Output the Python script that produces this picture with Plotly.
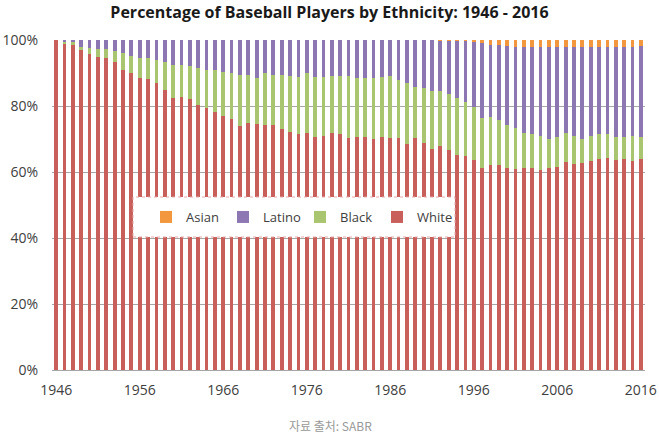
import plotly.graph_objects as go

years = list(range(1946, 2017))

white = [100, 99.0, 98.5, 97.0, 95.8, 94.7, 94.4, 93.2, 90.9, 89.9,
         88.4, 88.2, 86.9, 84.8, 82.3, 82.8, 82.1, 80.3, 79.5, 78.3,
         77.0, 76.0, 73.9, 74.7, 74.5, 74.2, 74.2, 73.0, 72.0, 71.4,
         71.7, 70.7, 71.0, 71.7, 71.4, 70.2, 70.5, 70.7, 69.9, 70.5,
         70.4, 70.2, 68.5, 70.2, 68.9, 67.1, 67.9, 66.7, 65.3, 64.7,
         63.6, 61.1, 62.1, 62.0, 61.1, 60.8, 61.1, 61.3, 60.6, 61.3,
         61.4, 63.1, 62.4, 62.6, 63.3, 63.8, 64.1, 63.6, 63.8, 63.4,
         63.8]

black = [0, 0.5, 0.8, 1.0, 1.7, 2.5, 2.8, 3.6, 5.1, 5.4,
         6.1, 6.3, 7.1, 8.6, 10.1, 9.6, 9.9, 11.2, 11.5, 12.6,
         13.4, 13.9, 15.5, 14.7, 13.9, 15.7, 15.2, 16.4, 17.1, 17.5,
         18.4, 18.2, 17.9, 17.5, 17.8, 18.9, 18.1, 17.7, 18.5, 18.4,
         18.7, 17.7, 18.4, 15.7, 16.5, 17.3, 16.7, 16.8, 17.0, 16.6,
         16.2, 15.2, 14.7, 13.8, 13.1, 12.4, 10.8, 10.2, 10.3, 8.6,
         9.1, 8.6, 8.5, 7.3, 7.6, 7.7, 7.3, 7.1, 6.9, 7.5,
         6.9]

latino = [0, 0.5, 0.7, 2.0, 2.5, 2.8, 2.8, 3.2, 4.0, 4.7,
          5.5, 5.5, 6.0, 6.6, 7.6, 7.6, 8.0, 8.5, 9.0, 9.1,
          9.6, 10.1, 10.6, 10.6, 11.6, 10.1, 10.6, 10.6, 10.9, 11.1,
          9.9, 11.1, 11.1, 10.8, 10.8, 10.9, 11.4, 11.6, 11.6, 11.1,
          10.9, 12.1, 13.1, 14.1, 14.6, 15.6, 15.1, 16.2, 17.4, 18.4,
          19.7, 22.9, 21.7, 22.6, 24.0, 24.8, 26.1, 26.4, 27.1, 28.1,
          27.5, 26.3, 27.1, 28.1, 27.1, 26.5, 26.6, 27.3, 27.3, 27.1,
          27.4]

asian = [0] * 46 + [0.3, 0.3, 0.3, 0.3, 0.5, 0.8, 1.5, 1.6, 1.8, 2.0,
                    2.0, 2.1, 2.0, 2.0, 2.0, 2.0, 2.0, 2.0, 2.0, 2.0,
                    2.0, 2.0, 2.0, 2.0, 1.9]

series = [("White", white, "#C95F5B"),
          ("Black", black, "#A9C56F"),
          ("Latino", latino, "#8D77B3"),
          ("Asian", asian, "#F2973E")]

fig = go.Figure()
for name, vals, color in series:
    fig.add_trace(go.Bar(x=years, y=vals, name=name, marker_color=color,
                         marker_line_width=0))

font_main = "Open Sans, Liberation Sans, sans-serif"

fig.update_layout(
    width=659, height=439,
    margin=dict(l=52, r=14, t=40, b=69, autoexpand=False),
    paper_bgcolor="white", plot_bgcolor="white",
    barmode="stack", barnorm="percent", bargap=0.55,
    title=dict(text="<b>Percentage of Baseball Players by Ethnicity: 1946 - 2016</b>",
               x=0.5, xanchor="center", y=0.972, yanchor="middle", yref="container",
               font=dict(family=font_main, size=16, color="#1a1a1a")),
    xaxis=dict(range=[1945.5, 2016.5], tick0=1946, dtick=10, tickmode="linear",
               automargin=False,
               showgrid=False, showline=True, linecolor="#a6a6a6", linewidth=1,
               ticks="outside", ticklen=7, tickcolor="rgba(0,0,0,0)",
               tickfont=dict(family=font_main, size=14, color="#404040")),
    yaxis=dict(range=[0, 100], dtick=20, ticksuffix="%", showgrid=True,
               automargin=False,
               gridcolor="#a6a6a6", gridwidth=1, zeroline=False, showline=False,
               ticks="outside", ticklen=10, tickcolor="rgba(0,0,0,0)",
               tickfont=dict(family=font_main, size=14, color="#404040")),
    legend=dict(orientation="h", traceorder="reversed",
                x=(146 - 52) / 593, xanchor="left",
                y=(370 - 217) / 330, yanchor="middle",
                bgcolor="rgba(0,0,0,0)", borderwidth=0,
                entrywidth=32, entrywidthmode="pixels",
                font=dict(family=font_main, size=13, color="#404040")),
    shapes=[dict(type="rect", xref="paper", yref="paper",
                 x0=(133 - 52) / 593, x1=(455 - 52) / 593,
                 y0=(370 - 237) / 330, y1=(370 - 197) / 330,
                 fillcolor="white", line=dict(color="#e3a9a7", width=1, dash="dot"),
                 layer="above")],
    annotations=[dict(text="자료 출처: SABR", xref="paper", yref="paper",
                      x=(330 - 52) / 593, y=(370 - 425) / 330, xanchor="center", yanchor="middle",
                      showarrow=False,
                      font=dict(family="Noto Sans CJK KR, sans-serif", size=12, color="#999999"))],
)

fig.write_html("out.html", config={"displayModeBar": False},
               post_script="document.body.style.margin='0px';")
